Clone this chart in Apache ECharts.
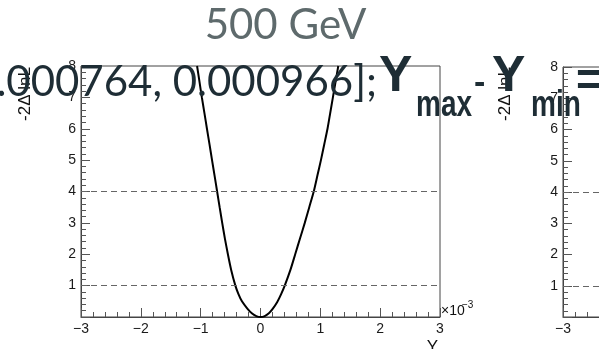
<!DOCTYPE html>
<html>
<head>
<meta charset="utf-8">
<script src="https://cdn.jsdelivr.net/npm/echarts@6/dist/echarts.min.js"></script>
<style>
  html, body { margin: 0; padding: 0; background: #fff; }
  #chart { width: 599px; height: 349px; }
</style>
</head>
<body>
<div id="chart"></div>
<script>
// Profile-likelihood scan of Y (x values in units of 1e-3)
const scanY   = [-1.06, -1.02, -0.98, -0.937, -0.895, -0.852, -0.81, -0.767, -0.725, -0.683, -0.64, -0.595, -0.545, -0.49, -0.42, -0.37, -0.31, -0.22, -0.14, -0.07, 0, 0.07, 0.14, 0.20, 0.28, 0.345, 0.405, 0.50, 0.58, 0.66, 0.74, 0.815, 0.89, 0.95, 1.01, 1.065, 1.12, 1.165, 1.21, 1.255, 1.30];
const scanNll = [8, 7.5, 7, 6.5, 6, 5.5, 5, 4.5, 4, 3.5, 3, 2.5, 2, 1.5, 1, 0.74, 0.5, 0.27, 0.11, 0.03, 0, 0.03, 0.12, 0.25, 0.48, 0.73, 1, 1.5, 2, 2.5, 3, 3.5, 4, 4.5, 5, 5.5, 6, 6.5, 7, 7.5, 8];

// Reference levels (1 sigma, 2 sigma)
const sigmaLevels = [1, 4];

// Axis ranges / ticks
const xRange = [-3, 3];
const yRange = [0, 8];

const titleText = '500 GeV';
const intervalText = '.000764, 0.000966];';

const chart = echarts.init(document.getElementById('chart'), null, { renderer: 'canvas' });

const tickColor = '#555';
const labelFont = 'Liberation Sans, Arial, sans-serif';
const minus = v => String(v).replace('-', '\u2212');

function xAxisCfg(grid) {
  return {
    gridIndex: grid, type: 'value', min: xRange[0], max: xRange[1], interval: 1,
    axisLine: { show: true, onZero: false, lineStyle: { color: '#444', width: 1 } },
    axisTick: { show: true, inside: true, length: 9, lineStyle: { color: tickColor } },
    minorTick: { show: true, splitNumber: 5, length: 5, lineStyle: { color: tickColor } },
    axisLabel: { color: '#1a1a1a', fontSize: 14, fontFamily: labelFont, margin: 5, formatter: minus },
    splitLine: { show: false }, minorSplitLine: { show: false }
  };
}
function yAxisCfg(grid) {
  return {
    gridIndex: grid, type: 'value', min: yRange[0], max: yRange[1], interval: 1,
    axisLine: { show: true, onZero: false, lineStyle: { color: '#444', width: 1 } },
    axisTick: { show: true, inside: true, length: 9, lineStyle: { color: tickColor } },
    minorTick: { show: true, splitNumber: 5, length: 5, lineStyle: { color: tickColor } },
    axisLabel: { color: '#1a1a1a', fontSize: 14, fontFamily: labelFont, margin: 5,
                 formatter: v => (v === 0 ? '' : String(v)) },
    splitLine: { show: false }, minorSplitLine: { show: false }
  };
}

const levelLines = {
  silent: true, symbol: 'none', animation: false,
  label: { show: false },
  lineStyle: { color: '#666', width: 1, type: [6, 4] },
  data: sigmaLevels.map(v => ({ yAxis: v }))
};

const darkText = '#1e2d35';
const boldFont = 'Liberation Sans, Arial, sans-serif';

chart.setOption({
  animation: false,
  backgroundColor: '#fff',
  grid: [
    { left: 81, top: 66, width: 359, height: 251, show: true, borderColor: '#444', borderWidth: 1,
      backgroundColor: 'transparent', outerBoundsMode: 'none', containLabel: false },
    // second panel continues past the right edge of the page
    { left: 563, top: 67, width: 359, height: 250, show: true, borderColor: '#444', borderWidth: 1,
      backgroundColor: 'transparent', outerBoundsMode: 'none', containLabel: false }
  ],
  xAxis: [xAxisCfg(0), xAxisCfg(1)],
  yAxis: [yAxisCfg(0), yAxisCfg(1)],
  series: [
    {
      type: 'line', xAxisIndex: 0, yAxisIndex: 0,
      data: scanY.map((x, i) => [x, scanNll[i]]),
      showSymbol: false, smooth: 0.2, clip: true,
      lineStyle: { color: '#000', width: 2 },
      markLine: levelLines
    },
    {
      type: 'line', xAxisIndex: 1, yAxisIndex: 1,
      data: [], showSymbol: false,
      markLine: levelLines
    }
  ],
  graphic: [
    // axis titles, left panel
    { type: 'text', x: 25, y: 67, rotation: Math.PI / 2, z: 50,
      style: { text: '-2\u0394 lnL', fill: '#111', font: '17px ' + labelFont, textAlign: 'right', textVerticalAlign: 'middle' } },
    { type: 'text', x: 438, y: 339, z: 50,
      style: { text: 'Y', fill: '#111', font: '17px ' + labelFont, textAlign: 'right', textVerticalAlign: 'top' } },
    { type: 'text', x: 441, y: 311, z: 50,
      style: { text: '\u00d710', fill: '#111', font: '14px ' + labelFont, textAlign: 'left', textVerticalAlign: 'middle' } },
    { type: 'text', x: 462, y: 305, z: 50,
      style: { text: '\u22123', fill: '#111', font: '10px ' + labelFont, textAlign: 'left', textVerticalAlign: 'middle' } },
    // axis title, right panel
    { type: 'text', x: 505, y: 67, rotation: Math.PI / 2, z: 50,
      style: { text: '-2\u0394 lnL', fill: '#111', font: '17px ' + labelFont, textAlign: 'right', textVerticalAlign: 'middle' } },

    // title
    { type: 'text', x: 285.5, y: 25, z: 60,
      style: { text: titleText, fill: '#5e6a6c', font: '42px Lato', textAlign: 'center', textVerticalAlign: 'middle' } },
    // subtitle
    { type: 'text', x: 377, y: 82, z: 60,
      style: { text: intervalText, fill: darkText, font: '42px Lato', textAlign: 'right', textVerticalAlign: 'middle' } },
    { type: 'text', x: 379, y: 77, z: 60,
      style: { text: 'Y', fill: darkText, font: 'bold 50px ' + boldFont, textAlign: 'left', textVerticalAlign: 'middle' } },
    { type: 'text', x: 416, y: 106, z: 60, scaleY: 1.35,
      style: { text: 'max', fill: darkText, font: 'bold 28px ' + boldFont, textAlign: 'left', textVerticalAlign: 'middle' } },
    { type: 'text', x: 474, y: 84, z: 60,
      style: { text: '-', fill: darkText, font: 'bold 34px ' + boldFont, textAlign: 'left', textVerticalAlign: 'middle' } },
    { type: 'text', x: 492, y: 77, z: 60,
      style: { text: 'Y', fill: darkText, font: 'bold 50px ' + boldFont, textAlign: 'left', textVerticalAlign: 'middle' } },
    { type: 'text', x: 531, y: 106, z: 60, scaleY: 1.35,
      style: { text: 'min', fill: darkText, font: 'bold 28px ' + boldFont, textAlign: 'left', textVerticalAlign: 'middle' } },
    { type: 'text', x: 576, y: 82, z: 60,
      style: { text: '=', fill: darkText, font: 'bold 46px ' + boldFont, textAlign: 'left', textVerticalAlign: 'middle' } }
  ]
});
</script>
</body>
</html>
